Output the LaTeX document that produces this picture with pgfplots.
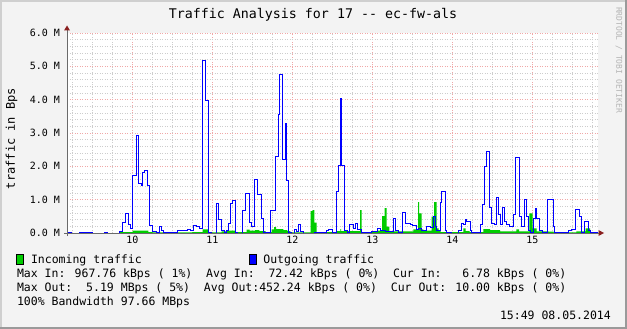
\documentclass[border=0pt]{standalone}
\usepackage{fontspec}
\setmainfont{DejaVu Sans Mono}
\usepackage{pgfplots}
\pgfplotsset{compat=1.18}
\definecolor{bgc}{HTML}{F3F3F3}
\definecolor{shadeA}{HTML}{CFCFCF}
\definecolor{shadeB}{HTML}{9A9A9A}
\definecolor{mgrid}{HTML}{F0A8A8}
\definecolor{mingrid}{HTML}{CDCDCD}
\definecolor{axiscol}{HTML}{6A6A6A}
\definecolor{arrowcol}{HTML}{8A1F1F}
\definecolor{incol}{HTML}{00CC00}
\definecolor{outcol}{HTML}{0000FF}
\definecolor{wm}{HTML}{B4B4B4}
\begin{document}
\begin{tikzpicture}
\useasboundingbox (0,0) rectangle (627pt,-329pt);
\fill[bgc] (0,0) rectangle (627pt,-329pt);
\fill[shadeA] (0,0) rectangle (627pt,-2pt);
\fill[shadeA] (0,0) rectangle (2pt,-329pt);
\fill[shadeB] (624.5pt,0) rectangle (627pt,-329pt);
\fill[shadeB] (0,-326.5pt) rectangle (627pt,-329pt);
\begin{axis}[
  at={(67pt,-233pt)}, anchor=south west,
  scale only axis, width=531pt, height=200pt,
  xmin=11, xmax=409.25, ymin=0, ymax=6,
  axis line style={draw=none},
  axis background/.style={fill=white},
  xtick={60,120,180,240,300,360},
  xticklabels={10,11,12,13,14,15},
  minor xtick={15,30,45,75,90,105,135,150,165,195,210,225,255,270,285,315,330,345,375,390,405},
  ytick={0,1,2,3,4,5,6},
  yticklabels={0.0 M,1.0 M,2.0 M,3.0 M,4.0 M,5.0 M,6.0 M},
  minor ytick={0.2,0.4,0.6,0.8,1.2,1.4,1.6,1.8,2.2,2.4,2.6,2.8,3.2,3.4,3.6,3.8,4.2,4.4,4.6,4.8,5.2,5.4,5.6,5.8},
  grid=both,
  major grid style={color=mgrid, dash pattern=on 1pt off 1.5pt, line width=0.8pt},
  minor grid style={color=mingrid, dash pattern=on 1pt off 1.5pt, line width=0.8pt},
  tick style={draw=none},
  ticklabel style={font=\fontsize{10}{12}\selectfont},
  yticklabel style={xshift=-3.5pt},
  xticklabel style={yshift=0pt},
  clip=true,
]
\addplot[fill=incol, draw=none, const plot] coordinates {
(11,0.0)(50,0.03)(60.25,0.07)(72,0.03)(75,0.02)(105,0.03)(112.75,0.11)(117.25,0.02)
(127,0.05)(131,0.07)(137.5,0.03)(145.75,0.1)(148,0.07)(152,0.09)(155.25,0.06)(160,0.03)
(164.5,0.11)(166.25,0.18)(167.75,0.12)(173.25,0.09)(176.25,0.06)(178.5,0.02)
(193.75,0.66)(195.25,0.69)(196.5,0.31)(198.25,0.03)(212.75,0.06)(216,0.12)(216.5,0.06)
(230.75,0.69)(232,0.03)(244,0.07)(247.25,0.51)(249.25,0.75)(250.75,0.19)(252.75,0.05)
(270.75,0.11)(274.25,0.93)(275,0.59)(277,0.11)(278.25,0.07)(284.5,0.49)(286.25,0.93)
(288.25,0.14)(289.75,0.06)(291.25,0.03)(308.25,0.14)(310,0.06)(313,0.03)(323.25,0.12)
(328.25,0.09)(335.75,0.05)(348,0.11)(350,0.05)(357.75,0.59)(360.25,0.14)(363.25,0.05)
(372,0.04)(376,0.02)(393,0.05)(400,0.14)(403.25,0.03)(409.25,0.03)
} \closedcycle;
\addplot[color=outcol, line width=1pt, const plot] coordinates {
(11,0.03)(14.5,0.0)(20,0.03)(30,0.0)(39,0.03)(41.5,0.0)(50.25,0.05)(52.5,0.33)(54.75,0.59)
(56.75,0.27)(58.75,0.14)(60.25,1.74)(62.75,2.94)(64.25,1.48)(66.5,1.43)(67.25,1.83)
(69.25,1.87)(71.5,1.43)(72.75,0.24)(75.25,0.06)(78.25,0.03)(80,0.19)(81.75,0.07)
(83.25,0.03)(89.5,0.01)(93.75,0.08)(97.5,0.07)(101.25,0.12)(103.5,0.08)(105.75,0.23)
(108.25,0.19)(110.25,0.14)(112.75,5.19)(115,3.99)(117.25,0.03)(119.5,0.0)(123.25,0.89)
(124.75,0.41)(127,0.07)(129.25,0.03)(130.75,0.09)(132.25,0.29)(133.75,0.89)(135.25,0.98)
(137.5,0.03)(139,0.0)(142.75,0.68)(144.75,1.18)(147.5,0.32)(149.5,0.19)(151.75,1.61)
(154,1.17)(157,0.44)(158.5,0.03)(163.75,0.68)(167.5,2.29)(169.5,3.57)(170.5,4.77)
(172.5,2.2)(174.75,3.29)(175.75,1.59)(177.25,0.03)(179.5,0.0)(181.75,0.12)(183.25,0.04)
(184.5,0.25)(186.25,0.06)(188.25,0.0)(196.5,0.03)(198.25,0.02)(205.75,0.08)(207.25,0.12)
(209.75,0.02)(212.75,1.24)(214.75,2.03)(215.75,4.05)(217,2.03)(219,0.07)(221.5,0.02)
(222.75,0.27)(226,0.15)(227.5,0.29)(228.75,0.11)(231.5,0.03)(237,0.01)(239,0.05)
(244,0.14)(245.75,0.08)(250,0.05)(252.75,0.05)(255.75,0.45)(257.5,0.07)(259.5,0.03)
(262.5,0.63)(265,0.3)(268.25,0.25)(270,0.22)(272.75,0.1)(274.75,0.15)
(275.75,0.13)(277,0.09)(278.25,0.07)(280.75,0.19)(283.25,0.17)(285.75,0.49)(287,0.19)
(288.25,0.09)(290.75,0.91)(292,1.24)(294.5,0.09)(295.75,0.03)(299.5,0.0)(304.5,0.09)
(307,0.29)(308.25,0.27)(309.5,0.41)(310.75,0.36)(313.25,0.07)(314.5,0.03)(320.75,0.25)
(322.25,0.86)(323.75,1.99)(325.75,2.44)(327.75,0.76)(329.25,0.29)(331.25,0.26)
(332.75,1.07)(334.75,0.57)(336.25,0.27)(337.75,0.77)(339.25,0.34)(340.75,0.27)
(342.75,0.19)(345.75,0.56)(347.25,2.27)(350.25,0.49)(351.5,0.19)(353.75,1.01)
(355.75,0.49)(357,0.09)(358.25,0.03)(360.75,0.45)(362,0.74)(363.25,0.44)(365.25,0.09)
(367.75,0.03)(371.5,1.01)(375.75,0.21)(376.75,0.03)(380.75,0.01)(387,0.07)(389.5,0.11)
(392,0.71)(395.25,0.49)(397,0.03)(399,0.36)(402,0.09)(403.75,0.03)(409.25,0.03)
};
\end{axis}
% axes with arrows
\draw[axiscol, line width=1pt] (67pt,-236pt) -- (67pt,-30pt);
\fill[arrowcol] (64pt,-30.5pt) -- (70pt,-30.5pt) -- (67pt,-25.5pt) -- cycle;
\draw[axiscol, line width=1pt] (64pt,-233pt) -- (599pt,-233pt);
\fill[arrowcol] (598.5pt,-230pt) -- (598.5pt,-236pt) -- (604pt,-233pt) -- cycle;
% title
\node[anchor=base, inner sep=0, font=\fontsize{13.3}{15}\selectfont] at (313pt,-18.5pt) {Traffic Analysis for 17 -{}- ec-fw-als};
% y label
\node[rotate=90, anchor=base, inner sep=0, font=\fontsize{12}{14}\selectfont] at (15pt,-138.5pt) {traffic in Bps};
% watermark
\node[rotate=-90, inner sep=0, font=\fontsize{8}{9}\selectfont, text=wm] at (619pt,-60pt) {RRDTOOL / TOBI OETIKER};
% legend
\filldraw[fill=incol, draw=black, line width=0.5pt] (16pt,-254.5pt) rectangle (23pt,-264pt);
\filldraw[fill=outcol, draw=black, line width=0.5pt] (249pt,-254.5pt) rectangle (256pt,-264pt);
\begin{scope}[every node/.style={anchor=base west, inner sep=0, font=\fontsize{11.5}{13}\selectfont}]
\node at (30.8pt,-263pt) {Incoming traffic};
\node at (263.2pt,-263pt) {Outgoing traffic};
\node at (16.8pt,-277pt) {Max In: 967.76 kBps ( 1\%)\ \ Avg In:\ \ 72.42 kBps ( 0\%)\ \ Cur In:\ \ \ 6.78 kBps ( 0\%)};
\node at (16.8pt,-291pt) {Max Out:\ \ 5.19 MBps ( 5\%)\ \ Avg Out:452.24 kBps ( 0\%)\ \ Cur Out: 10.00 kBps ( 0\%)};
\node at (16.8pt,-305pt) {100\% Bandwidth 97.66 MBps};
\node[anchor=base east] at (611pt,-319pt) {15:49 08.05.2014};
\end{scope}
\end{tikzpicture}
\end{document}
